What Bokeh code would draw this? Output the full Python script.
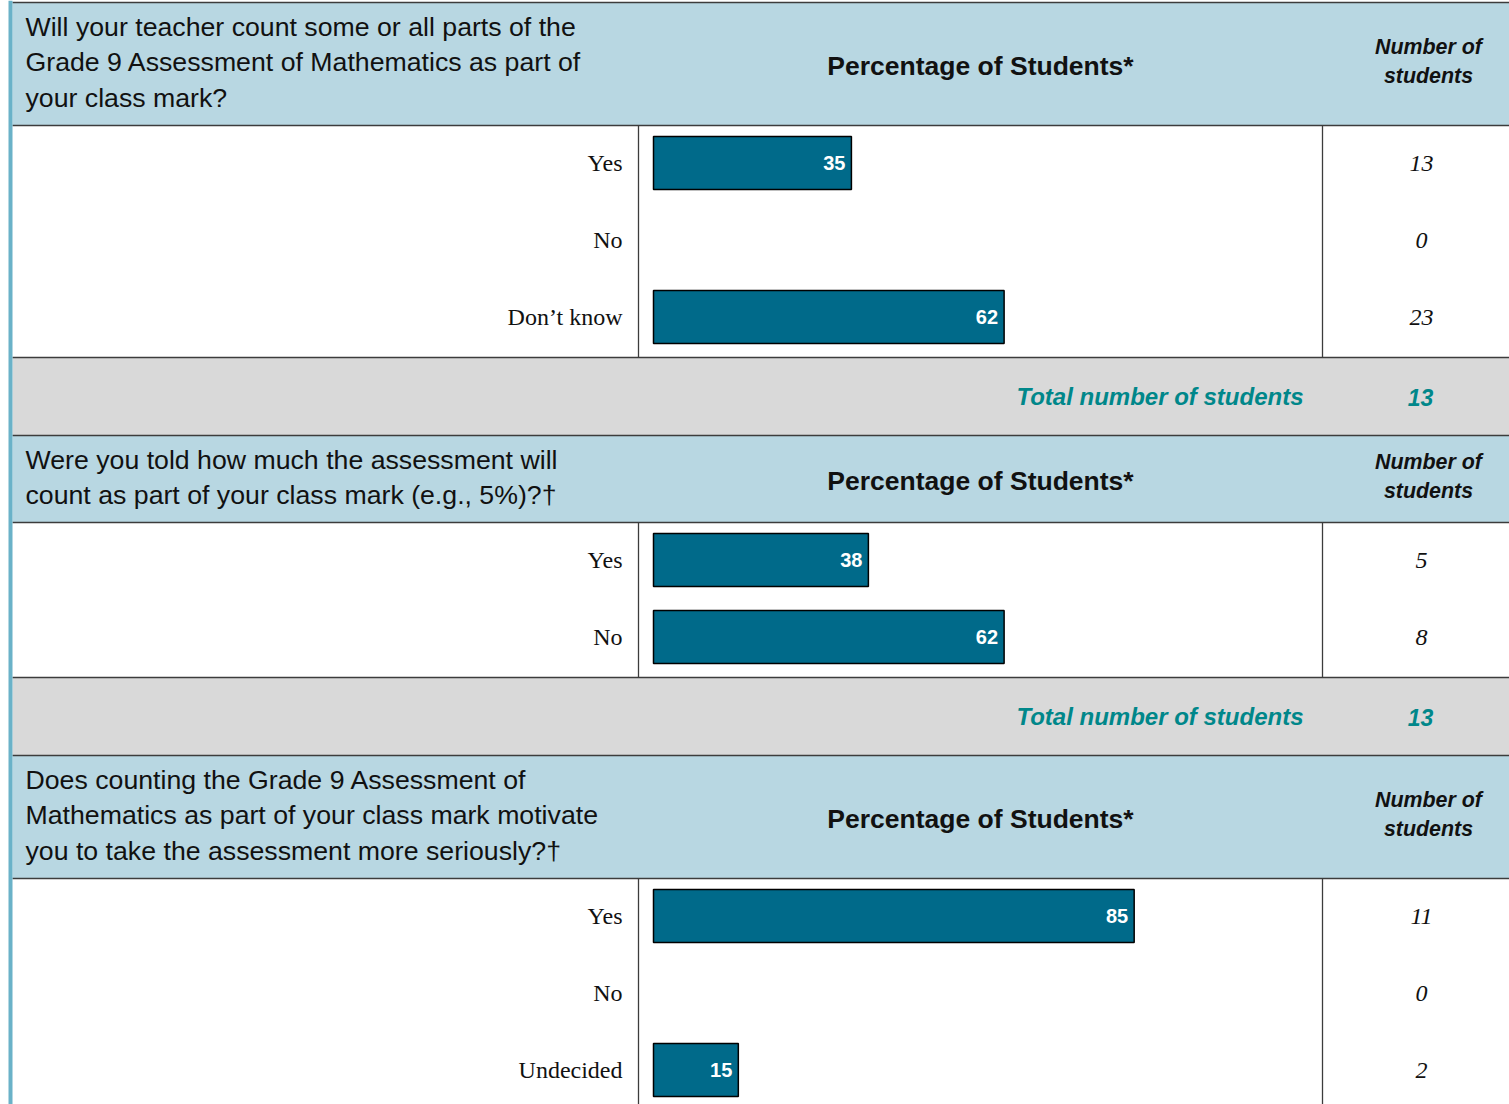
from bokeh.plotting import figure
from bokeh.models import Range1d, ColumnDataSource
from bokeh.core.properties import value
from bokeh.embed import file_html
from bokeh.resources import INLINE

# ---------------- data ----------------
questions = [
    ["Will your teacher count some or all parts of the",
     "Grade 9 Assessment of Mathematics as part of",
     "your class mark?"],
    ["Were you told how much the assessment will",
     "count as part of your class mark (e.g., 5%)?\u2020"],
    ["Does counting the Grade 9 Assessment of",
     "Mathematics as part of your class mark motivate",
     "you to take the assessment more seriously?\u2020"],
]
q1_categories = ["Yes", "No", "Don\u2019t know"]
q1_percent = [35, 0, 62]
q1_counts = [13, 0, 23]

q2_categories = ["Yes", "No"]
q2_percent = [38, 62]
q2_counts = [5, 8]

q3_categories = ["Yes", "No", "Undecided"]
q3_percent = [85, 0, 15]
q3_counts = [11, 0, 2]

totals = [13, 13, None]
percent_title = "Percentage of Students*"
count_title = ["Number of", "students"]
total_label = "Total number of students"

sections = [
    (questions[0], q1_categories, q1_percent, q1_counts, totals[0]),
    (questions[1], q2_categories, q2_percent, q2_counts, totals[1]),
    (questions[2], q3_categories, q3_percent, q3_counts, totals[2]),
]

# ---------------- styling / layout ----------------
W, H = 1509, 1104
X0, X1 = 0, 1509
HEADER_BG = "#B8D7E2"
GRAY_BG = "#D9D9D9"
BAR_FILL = "#006A8A"
TEAL = "#00878A"
LINE = "#3C3C3C"
LEFT_BAR = "#6AB2C8"
SANS = value("Liberation Sans")
SERIF = value("Liberation Serif")

BAR_X0 = 653.0          # where 0 % sits
PX_PER_PCT = 5.655      # pixels per percent
COL1 = 638              # label / bar separator
COL2 = 1322             # bar / count separator

p = figure(width=W, height=H, x_range=Range1d(X0, X1), y_range=Range1d(H, 0),
           output_backend="svg", toolbar_location=None, min_border=0,
           x_axis_type=None, y_axis_type=None)
p.extra_x_ranges = {"pct": Range1d((X0 - BAR_X0) / PX_PER_PCT, (X1 - BAR_X0) / PX_PER_PCT)}
p.grid.visible = False
p.outline_line_color = None
p.background_fill_color = "white"
p.border_fill_color = "white"

hq = dict(left=[], right=[], top=[], bottom=[])
gq = dict(left=[], right=[], top=[], bottom=[])
hseg = dict(x0=[], x1=[], y0=[], y1=[])
vseg = dict(x0=[], x1=[], y0=[], y1=[])

y = 2.0
hseg["x0"].append(12); hseg["x1"].append(X1); hseg["y0"].append(y); hseg["y1"].append(y)

for lines, cats, pcts, cnts, total in sections:
    header_h = 15 + 36 * len(lines)
    hq["left"].append(12); hq["right"].append(X1); hq["top"].append(y); hq["bottom"].append(y + header_h)
    p.text(x=[25] * len(lines), y=[y + 24.3 + i * 35.5 for i in range(len(lines))], text=lines,
           text_font=SANS, text_font_size="26.7px", text_color="#111111",
           text_align="left", text_baseline="middle")
    c = y + header_h / 2
    p.text(x=[980], y=[c + 1.8], text=[percent_title], text_font=SANS, text_font_size="26.5px",
           text_font_style="bold", text_color="#111111", text_align="center", text_baseline="middle")
    p.text(x=[1428, 1428], y=[c - 17, c + 12.3], text=count_title, text_font=SANS,
           text_font_size="21.4px", text_font_style="bold italic", text_color="#111111",
           text_align="center", text_baseline="middle")
    y += header_h
    hseg["x0"].append(12); hseg["x1"].append(X1); hseg["y0"].append(y); hseg["y1"].append(y)

    n = len(cats)
    white_h = 77 * n + 1
    rows = [y + 37.5 + i * 77 for i in range(n)]
    for xc in (COL1, COL2):
        vseg["x0"].append(xc); vseg["x1"].append(xc); vseg["y0"].append(y); vseg["y1"].append(y + white_h)

    p.text(x=[622] * n, y=rows, text=cats, text_font=SERIF, text_font_size="24px",
           text_color="#111111", text_align="right", text_baseline="middle")
    p.text(x=[1421] * n, y=rows, text=[str(v) for v in cnts], text_font=SERIF,
           text_font_size="24px", text_font_style="italic", text_color="#111111",
           text_align="center", text_baseline="middle")

    bars = ColumnDataSource(dict(
        y=[r for r, v in zip(rows, pcts) if v > 0],
        v=[v for v in pcts if v > 0],
        lab=[str(v) for v in pcts if v > 0],
    ))
    p.hbar(y="y", left=0, right="v", height=53, source=bars, x_range_name="pct",
           fill_color=BAR_FILL, line_color="#000000", line_width=1.5)
    p.text(x="v", y="y", text="lab", source=bars, x_range_name="pct", x_offset=-6,
           text_font=SANS, text_font_size="20px", text_font_style="bold",
           text_color="white", text_align="right", text_baseline="middle")

    y += white_h
    if total is not None:
        hseg["x0"].append(12); hseg["x1"].append(X1); hseg["y0"].append(y); hseg["y1"].append(y)
        gq["left"].append(12); gq["right"].append(X1); gq["top"].append(y); gq["bottom"].append(y + 78)
        p.text(x=[1303], y=[y + 38.5], text=[total_label], text_font=SANS, text_font_size="24px",
               text_font_style="bold italic", text_color=TEAL, text_align="right",
               text_baseline="middle")
        p.text(x=[1420], y=[y + 39.5], text=[str(total)], text_font=SANS, text_font_size="23px",
               text_font_style="bold italic", text_color=TEAL, text_align="center",
               text_baseline="middle")
        y += 78
        hseg["x0"].append(12); hseg["x1"].append(X1); hseg["y0"].append(y); hseg["y1"].append(y)

p.quad(source=ColumnDataSource(hq), left="left", right="right", top="top", bottom="bottom",
       fill_color=HEADER_BG, line_color=None, level="underlay")
p.quad(source=ColumnDataSource(gq), left="left", right="right", top="top", bottom="bottom",
       fill_color=GRAY_BG, line_color=None, level="underlay")
p.segment(source=ColumnDataSource(hseg), x0="x0", x1="x1", y0="y0", y1="y1",
          line_color=LINE, line_width=1.6)
p.segment(source=ColumnDataSource(vseg), x0="x0", x1="x1", y0="y0", y1="y1",
          line_color=LINE, line_width=1.3)
p.quad(left=[8], right=[12], top=[0], bottom=[H], fill_color=LEFT_BAR, line_color=None)

open("out.html", "w").write(file_html(p, INLINE))
